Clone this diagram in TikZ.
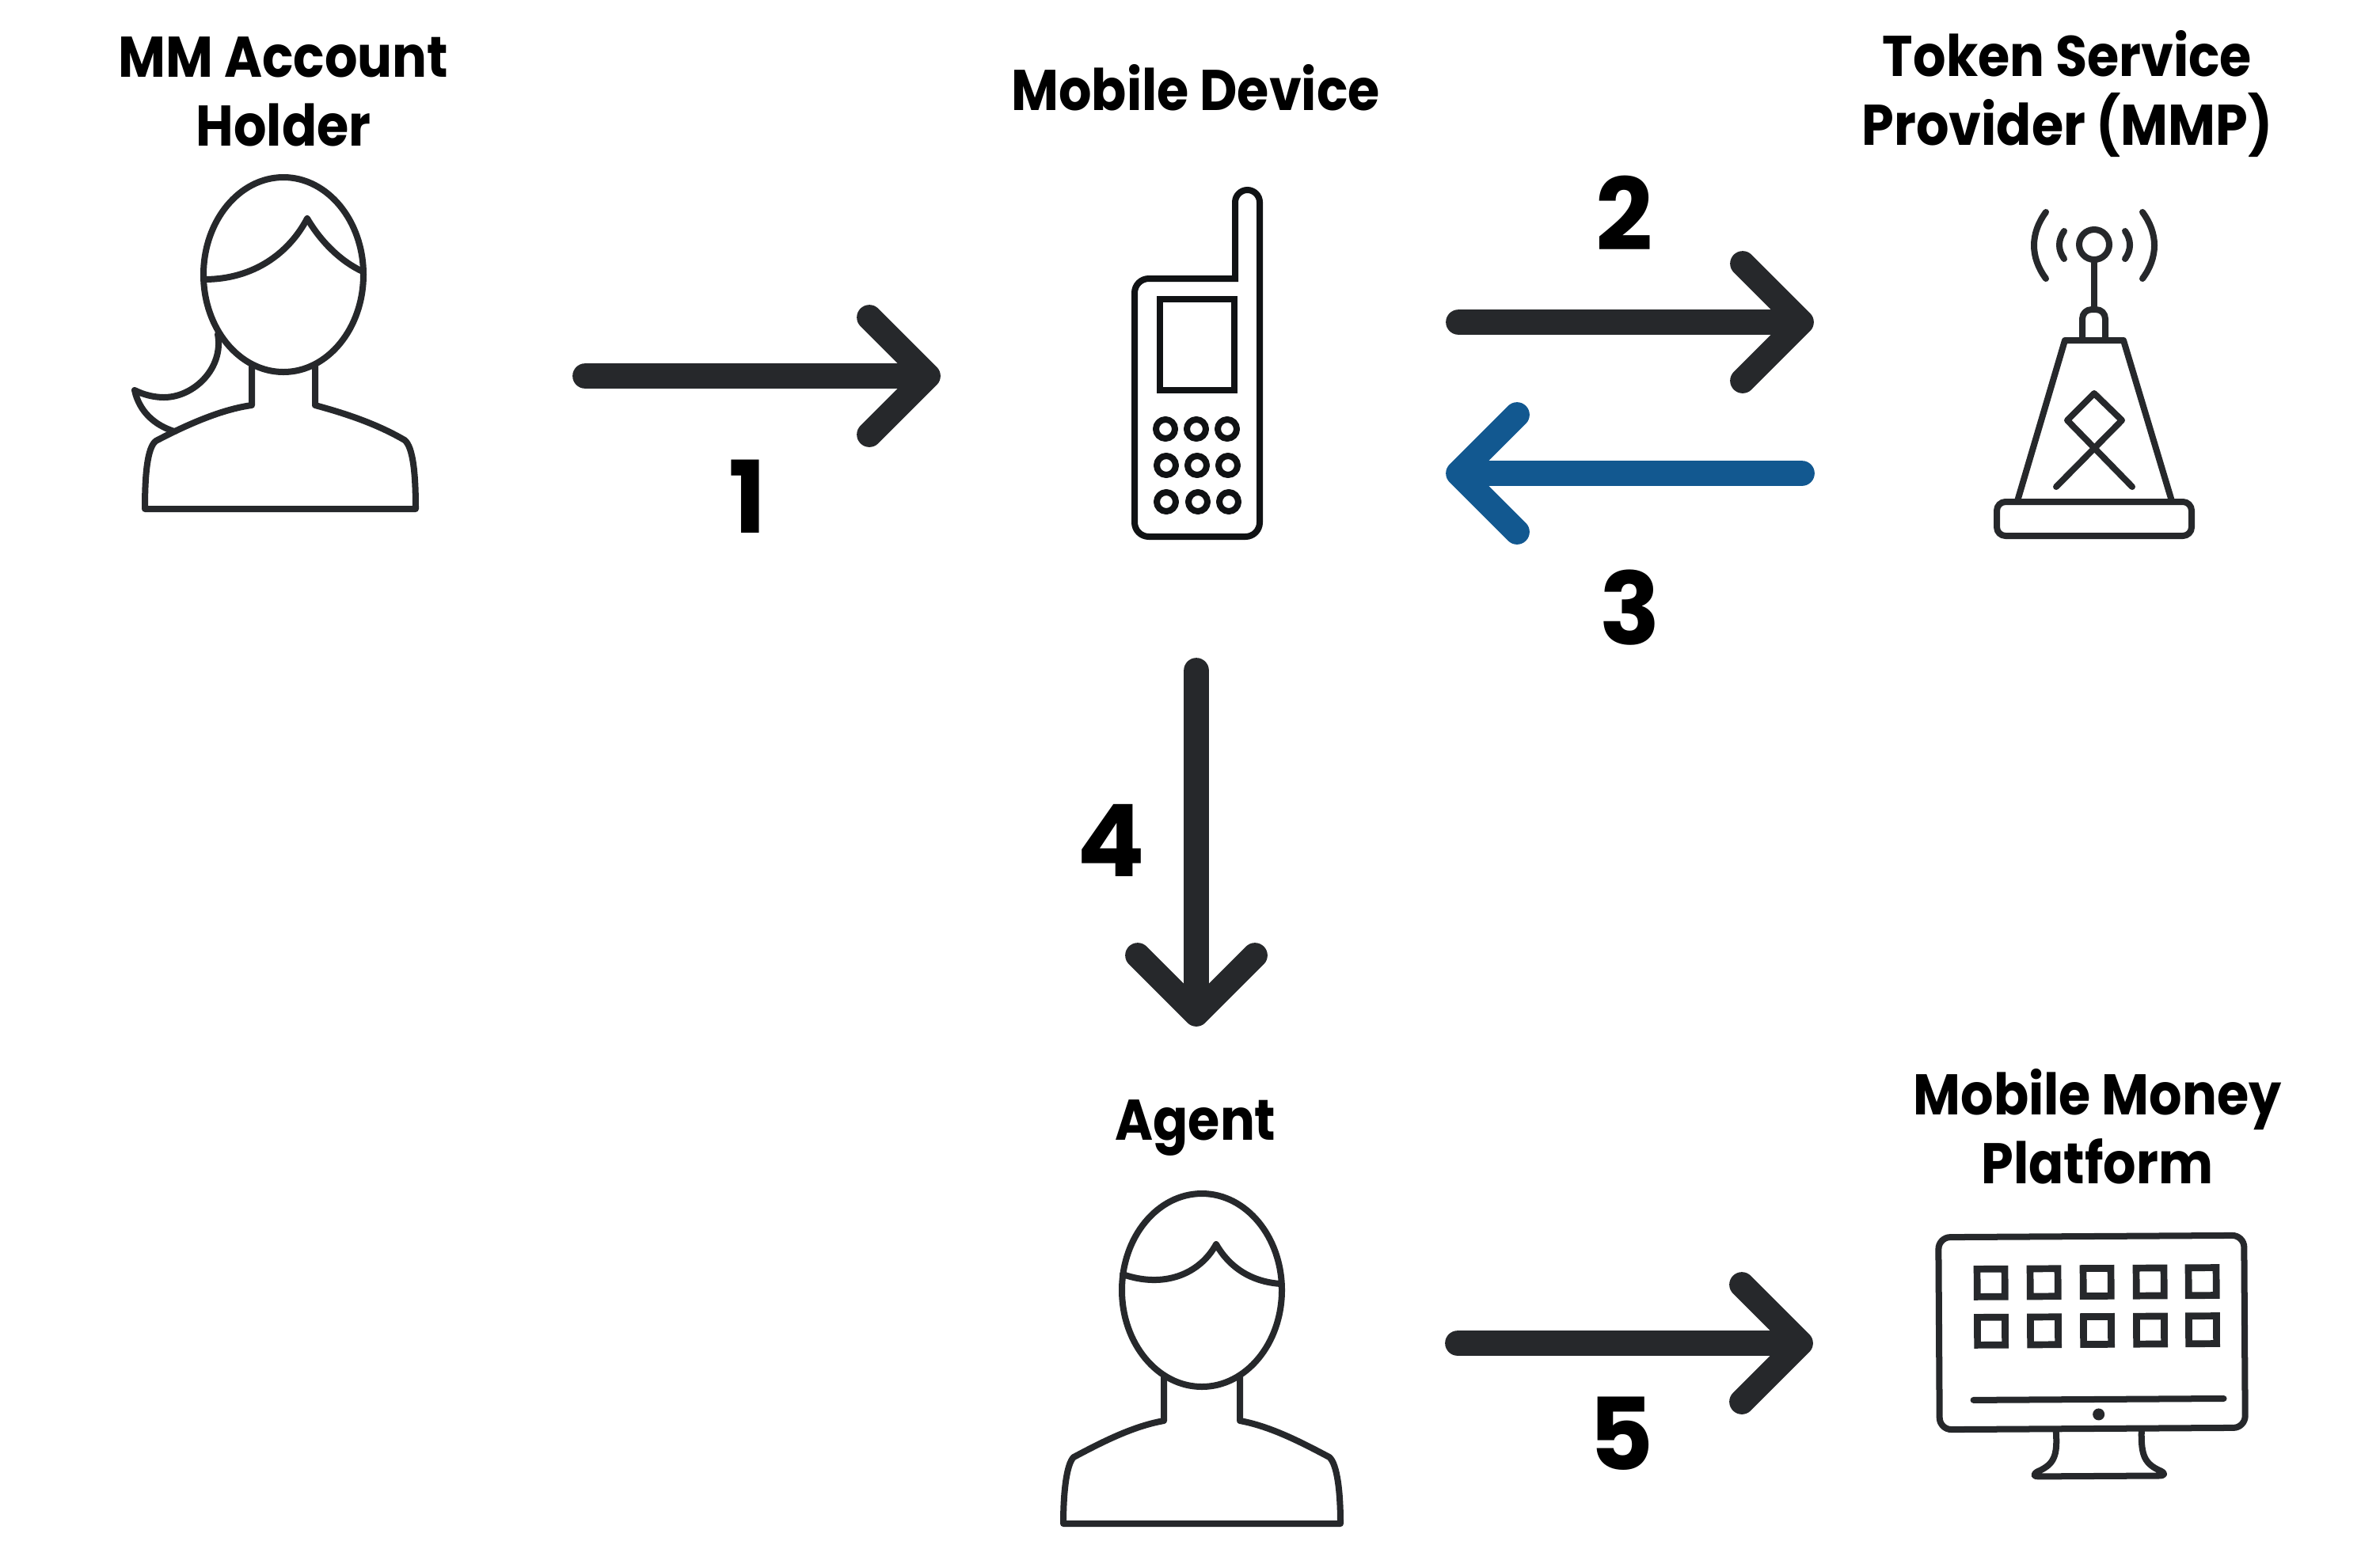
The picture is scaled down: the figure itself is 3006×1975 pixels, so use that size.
\documentclass[tikz,border=0pt]{standalone}
\usepackage{fontspec}
\setmainfont{Poppins}[FakeStretch=0.9]
\newfontfamily\digitfont{Poppins}
\definecolor{ink}{HTML}{26282B}
\definecolor{phoneink}{HTML}{101214}
\definecolor{bluearrow}{HTML}{125890}
\tikzset{
  x=0.01cm,y=-0.01cm,
  icon/.style={draw=ink,line width=0.08cm,line cap=round,line join=round},
  conn/.style={draw=ink,line width=0.317cm,line cap=round,line join=round},
  title/.style={font=\fontsize{20.6pt}{20.6pt}\selectfont\bfseries,text=black,inner sep=0pt,anchor=base},
  digit/.style={font=\digitfont\fontsize{36pt}{36pt}\selectfont\bfseries,text=black,inner sep=0pt,anchor=base},
}
\begin{document}
\begin{tikzpicture}
\useasboundingbox (0,0) rectangle (3006,1975);
\fill[white] (0,0) rectangle (3006,1975);

% titles
\node[title] (t1a) at (358,97) {MM Account};
\node[title] (t1b) at (358,184) {Holder};
\node[title] (t2) at (1510,139) {Mobile Device};
\node[title] (t3a) at (2611,96) {Token Service};
\node[title] (t3b) at (2611,183) {Provider (MMP)};
\node[title] (t4) at (1510,1440) {Agent};
\node[title] (t5a) at (2649,1408) {Mobile Money};
\node[title] (t5b) at (2649,1495) {Platform};

% account holder
\draw[icon] (358,347) ellipse [x radius=101,y radius=123];
\draw[icon] (258,353) .. controls (320,353) and (365,320) .. (388,276) .. controls (405,305) and (430,330) .. (458,343);
\draw[icon] (275,422) .. controls (283,465) and (245,502) .. (207,502) .. controls (195,502) and (182,499) .. (170,493) .. controls (176,520) and (195,537) .. (220,545);
\draw[icon] (318,462) -- (318,512) .. controls (280,517) and (235,537) .. (197,557) .. controls (186,565) and (183,600) .. (183,643) -- (525,643) .. controls (525,600) and (522,565) .. (511,556) .. controls (475,535) and (435,522) .. (398,512) -- (398,462);

% agent
\draw[icon] (1518,1630) ellipse [x radius=101,y radius=122];
\draw[icon] (1418,1610) .. controls (1470,1628) and (1515,1610) .. (1536,1572) .. controls (1555,1605) and (1585,1620) .. (1618,1622);
\draw[icon] (1470,1738) -- (1470,1795) .. controls (1430,1802) and (1390,1823) .. (1356,1841) .. controls (1347,1850) and (1343,1885) .. (1343,1925) -- (1693,1925) .. controls (1693,1885) and (1689,1850) .. (1679,1841) .. controls (1645,1823) and (1605,1802) .. (1566,1795) -- (1566,1738);

% phone
\draw[icon,draw=phoneink,line join=miter] (1433,370) .. controls (1433,360) and (1441,352) .. (1451,352) -- (1560,352) -- (1560,255.5) .. controls (1560,247) and (1567,240) .. (1575.5,240) .. controls (1584,240) and (1591,247) .. (1591,255.5) -- (1591,660) .. controls (1591,670) and (1583,678) .. (1573,678) -- (1451,678) .. controls (1441,678) and (1433,670) .. (1433,660) -- cycle;
\draw[icon,draw=phoneink,line join=miter] (1465,378) rectangle (1559,493);
\foreach \bx/\by in {1472/542,1511/542,1550/542,1473/588,1512/588,1551/588,1473/634,1513/634,1552/634}
  \draw[icon,draw=phoneink] (\bx,\by) circle [radius=12];

% token tower
\draw[icon] (2645,309) circle [radius=19];
\draw[icon] (2645,332) -- (2645,388);
\draw[icon] (2630,430) -- (2630,403) .. controls (2630,396) and (2635,391) .. (2642,391) -- (2647,391) .. controls (2654,391) and (2659,396) .. (2659,403) -- (2659,430);
\draw[icon] (2548,633) -- (2608,430) -- (2682,430) -- (2743,633);
\draw[icon,rounded corners=0.11cm] (2522,634) rectangle (2768,677);
\draw[icon] (2693,615) -- (2611,531) -- (2645,497) -- (2680,531) -- (2597,615);
\draw[icon] (2607,292) .. controls (2599,303) and (2599,316) .. (2607,327);
\draw[icon] (2684,292) .. controls (2692,303) and (2692,316) .. (2684,327);
\draw[icon] (2584,268) .. controls (2564,295) and (2564,325) .. (2584,352);
\draw[icon] (2706,268) .. controls (2726,295) and (2726,325) .. (2706,352);

% platform
\begin{scope}[rotate around={0.35:(2640,1680)}]
\draw[icon,rounded corners=0.15cm] (2449,1562) rectangle (2835,1805);
\foreach \sx in {2515,2582,2649,2716,2782}
  \foreach \sy in {1620,1681}
    \draw[icon,line join=miter,line width=0.087cm] (\sx-17.5,\sy-17.5) rectangle (\sx+17.5,\sy+17.5);
\draw[icon] (2492,1768) -- (2808,1768);
\fill[ink] (2650,1787) circle [radius=7.5];
\draw[icon] (2596,1808) .. controls (2598,1840) and (2593,1850) .. (2572,1859) .. controls (2566,1863) and (2568,1865) .. (2574,1865) -- (2726,1865) .. controls (2733,1865) and (2734,1862) .. (2728,1859) .. controls (2708,1850) and (2703,1840) .. (2704,1808);
\end{scope}

% connectors
\coordinate (a1s) at (739,475);
\coordinate (a1t) at (1172,475);
\draw[conn] (a1s) -- (a1t) ++(-74,-74) -- (a1t) -- ++(-74,74);
\coordinate (a2s) at (1842,407);
\coordinate (a2t) at (2275,407);
\draw[conn] (a2s) -- (a2t) ++(-74,-74) -- (a2t) -- ++(-74,74);
\coordinate (a3s) at (2276,598);
\coordinate (a3t) at (1842,598);
\draw[conn,draw=bluearrow] (a3s) -- (a3t) ++(74,-74) -- (a3t) -- ++(74,74);
\coordinate (a4s) at (1511,847);
\coordinate (a4t) at (1511,1281);
\draw[conn] (a4s) -- (a4t) ++(-74,-74) -- (a4t) -- ++(74,-74);
\coordinate (a5s) at (1841,1697);
\coordinate (a5t) at (2274,1697);
\draw[conn] (a5s) -- (a5t) ++(-74,-74) -- (a5t) -- ++(-74,74);

% step numbers
\node[digit] (n1) at (944,673) {1};
\node[digit] (n2) at (2052,316) {2};
\node[digit] (n3) at (2059,814) {3};
\node[digit] (n4) at (1403,1107) {4};
\node[digit] (n5) at (2048,1857) {5};
\end{tikzpicture}
\end{document}
